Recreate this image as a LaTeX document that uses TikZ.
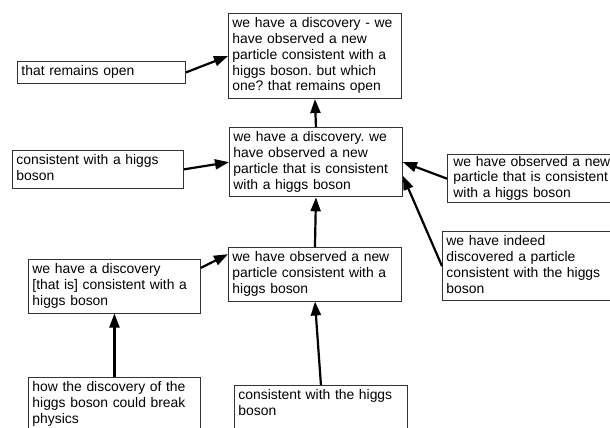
\documentclass[tikz,border=0pt]{standalone}
\usepackage{fontspec}
\setmainfont{Liberation Sans}
\usetikzlibrary{arrows.meta}
\definecolor{boxG}{RGB}{51,51,51}
\frenchspacing

\begin{document}
\begin{tikzpicture}[x=1pt,y=-1pt,>={Triangle[length=14pt,width=10pt]},
  box/.style={draw=boxG,line width=0.9pt,anchor=north west,align=left,text width=165pt,
    inner xsep=4pt,inner ysep=3.1pt,font=\fontsize{13.9}{15.8}\selectfont,
    execute at begin node=\strut,execute at end node=\strut},
  link/.style={->,line width=2.2pt}]
\useasboundingbox (0,0) rectangle (610,428);
\fill[white] (0,0) rectangle (610,428);
\clip (0,0) rectangle (610,428);
\node[box] (top) at (228,13) {we have a discovery - we\\have observed a new\\particle consistent with a\\higgs boson. but which\\one? that remains open};
\node[box,text width=160pt] (remain) at (17,61) {that remains open};
\node[box,text width=163pt] (cons) at (12,150) {consistent with a higgs\\boson};
\node[box] (mid) at (229,127) {we have a discovery. we\\have observed a new\\particle that is consistent\\with a higgs boson};
\node[box,inner ysep=0.5pt,inner xsep=6pt,text width=175pt] (right) at (447,154) {we have observed a new\\particle that is consistent\\with a higgs boson};
\node[box,text width=175pt] (indeed) at (442,231) {we have indeed\\discovered a particle\\consistent with the higgs\\boson};
\node[box] (obs) at (228,247) {we have observed a new\\particle consistent with a\\higgs boson};
\node[box,text width=164pt] (disc) at (28,259) {we have a discovery\\{[}that is{]} consistent with a\\higgs boson};
\node[box,text width=164pt] (how) at (28,377) {how the discovery of the\\higgs boson could break\\physics};
\node[box] (hb) at (234,385) {consistent with the higgs\\boson\\~};
\draw[link] (remain.east) -- (top.west);
\draw[link] (cons.east) -- (mid.west);
\draw[link] (mid.north) -- (top.south);
\draw[link] (right.west) -- (mid.east);
\draw[link] (indeed.west) -- (mid.-9);
\draw[link] (obs.north) -- (mid.south);
\draw[link] (disc.12) -- (obs.167);
\draw[link] (how.north) -- (disc.south);
\draw[link] (hb.north) -- (obs.south);
\end{tikzpicture}
\end{document}
